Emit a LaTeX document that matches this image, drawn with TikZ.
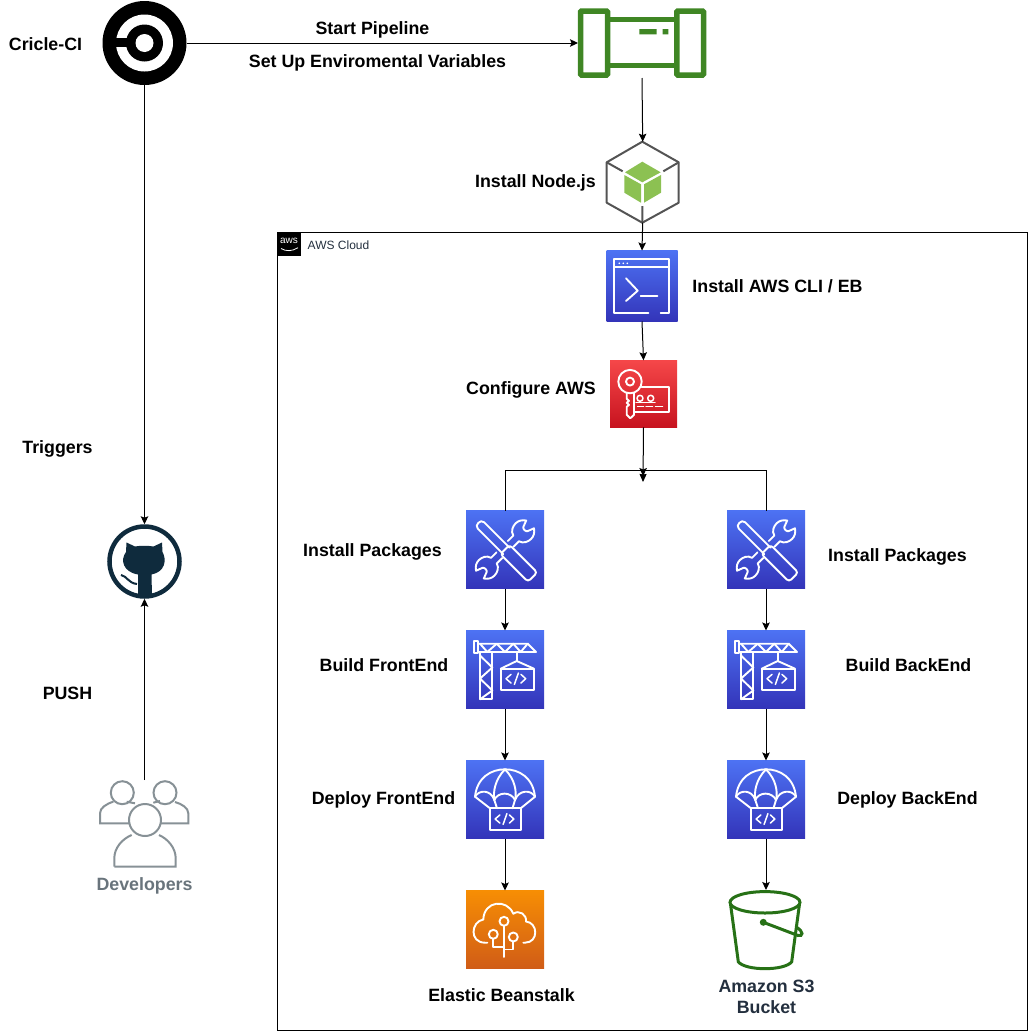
\documentclass[tikz,border=0pt]{standalone}
\usepackage{fontspec}
\setmainfont{Liberation Sans}
\usetikzlibrary{arrows.meta}
\usetikzlibrary{positioning}

\definecolor{awsblueA}{HTML}{4D72F3}
\definecolor{awsblueB}{HTML}{3334B9}
\definecolor{awsredA}{HTML}{F54749}
\definecolor{awsredB}{HTML}{C7131F}
\definecolor{awsorangeA}{HTML}{F78E04}
\definecolor{awsorangeB}{HTML}{D05C17}
\definecolor{pipegreen}{HTML}{3F8624}
\definecolor{bucketgreen}{HTML}{277116}
\definecolor{cubegreen}{HTML}{8CC152}
\definecolor{hexgray}{HTML}{545454}
\definecolor{ghnavy}{HTML}{0F2B3D}
\definecolor{devgray}{HTML}{879196}
\definecolor{inkblue}{HTML}{232F3E}

\tikzset{
  flow/.style={draw=black,line width=1pt,-{Stealth[length=8pt,width=7.5pt,inset=1.5pt]}},
  flowtwice/.style={draw=black,line width=1pt,-{Stealth[length=8pt,width=7.5pt,inset=1.5pt,sep=-2pt]Stealth[length=8pt,width=7pt,inset=0.5pt]}},
  branch/.style={draw=black,line width=1pt},
  steptext/.style={font=\bfseries\fontsize{17.8}{21.5}\selectfont,text=black,inner sep=0pt,align=center,yshift=-1pt},
  holder/.style={draw=none,inner sep=0pt,outer sep=0pt},
  tile/.style={holder,minimum width=#1,minimum height=#1},
  bluetile/.style={tile=#1,top color=awsblueA,bottom color=awsblueB},
  redtile/.style={tile=#1,top color=awsredA,bottom color=awsredB},
  orangetile/.style={tile=#1,top color=awsorangeA,bottom color=awsorangeB},
  glyph/.style={draw=white,line width=1.9pt,line join=round,line cap=round},
  thinglyph/.style={draw=white,line width=1.5pt,line join=round,line cap=round},
  codeicon/.pic={
    \draw[thinglyph] (-5.7,-4.3) -- (-10.7,0) -- (-5.7,4.3);
    \draw[thinglyph] (1.7,-5.7) -- (-2.3,5.7);
    \draw[thinglyph] (4.3,-4.3) -- (9,0) -- (4.3,4.3);
  },
  cliicon/.pic={
    \draw[glyph] (6.3,27.3) -- (-28,27.3) -- (-28,-26.7) -- (27,-26.7) -- (27,27.3) -- (18.7,27.3);
    \draw[glyph] (-28,-18.7) -- (27,-18.7);
    \fill[white] (-22.7,-22.7) circle (0.9) (-18.7,-22.7) circle (0.9) (-14.7,-22.7) circle (0.9);
    \draw[glyph] (-16,-7.7) -- (-4.3,4.7) -- (-16,15);
    \draw[glyph] (-1.3,9.7) -- (15.3,9.7);
  },
  keyicon/.pic={
    \draw[glyph] (-13.5,-12.2) circle (11.7);
    \draw[glyph] (-13.5,-12.2) circle (4);
    \draw[glyph] (-16.8,-1) -- (-16.8,5) -- (-14.5,7) -- (-16.8,9) -- (-14.5,11) -- (-16.8,13) -- (-16.8,21) -- (-13.2,24.5) -- (-9.5,21) -- (-9.5,-1);
    \draw[glyph] (-1.8,-7.2) -- (25.8,-7.2) -- (25.8,17.8) -- (-8.5,17.8);
    \draw[thinglyph] (-3.5,4.5) circle (3) (7.2,4.5) circle (3);
    \draw[thinglyph] (-7.5,8.8) -- (11.5,8.8);
    \draw[thinglyph] (-6,12.5) -- (0,12.5) (2.5,12.5) -- (9,12.5) (12,12.5) -- (19,12.5);
  },
  wrenchhalf/.pic={
    \draw[glyph] (8,-4) -- (15.7,-4) .. controls (17,-9) and (22,-11) .. (26,-11) .. controls (30,-11) and (33,-9) .. (35.5,-5.5) -- (29,-3) .. controls (27,-2) and (27,2) .. (29,3) -- (35.5,5.5) .. controls (33,9) and (30,11) .. (26,11) .. controls (22,11) and (17,9) .. (15.7,4) -- (8,4);
  },
  toolsicon/.pic={
    \pic[rotate=45] {wrenchhalf};
    \pic[rotate=225] {wrenchhalf};
    \begin{scope}[rotate=-45]
      \draw[glyph] (2,-4.5) -- (-34,-4.5) .. controls (-39,-4.5) and (-39,4.5) .. (-34,4.5) -- (2,4.5);
      \draw[glyph,rounded corners=3pt] (0,-6.5) rectangle (39,6.5);
    \end{scope}
  },
  craneicon/.pic={
    \draw[glyph] (-30.7,-28.5) rectangle (-26.7,-16.5);
    \draw[glyph] (-26.7,-25.8) -- (22.7,-25.8) -- (31,-17.5) -- (-26.7,-17.5);
    \draw[glyph] (-25,-25.8) -- (-17.7,-17.5) -- (-8.3,-25.8) -- (0,-17.5) -- (8.3,-25.8) -- (15.7,-17.5) -- (22.7,-25.8);
    \draw[glyph] (-25,-17.5) rectangle (-12.7,29.8);
    \draw[glyph] (-25,-14) -- (-12.7,-2) -- (-25,9) -- (-12.7,21) -- (-25,29.8);
    \draw[glyph] (11.7,-17.5) -- (11.7,-8.5);
    \draw[glyph] (-4.3,-0.8) -- (11.7,-8.5) -- (29,-0.8);
    \draw[glyph] (-4.3,-0.8) rectangle (29,20.2);
    \pic at (11.7,9.2) {codeicon};
  },
  deployicon/.pic={
    \draw[glyph] (-30,-2.8) .. controls (-28,-22) and (-14,-30.2) .. (0,-30.2) .. controls (14,-30.2) and (28,-22) .. (30,-2.8);
    \draw[glyph] (-30,-2.8) .. controls (-26,-10) and (-14,-10) .. (-10.7,0.5) .. controls (-7,-8) and (6,-8) .. (10,0.5) .. controls (14,-10) and (26,-10) .. (30,-2.8);
    \draw[glyph] (0,-30.2) .. controls (-10,-20) and (-12,-8) .. (-10.7,0.5);
    \draw[glyph] (0,-30.2) .. controls (10,-20) and (12,-8) .. (10,0.5);
    \draw[glyph] (-30,-2.8) -- (-15,8.8) (30,-2.8) -- (15.7,8.8) (-10.7,0.5) -- (-8,8.8) (10,0.5) -- (7.5,8.8);
    \draw[glyph] (-15,8.8) rectangle (15.7,30.5);
    \pic[scale=0.95] at (0.3,19.5) {codeicon};
  },
  beanstalkicon/.pic={
    \draw[glyph] (-17.7,13.2) -- (-20,13.2) .. controls (-36,13) and (-34,-8) .. (-21.7,-10) .. controls (-21,-29) and (2,-31) .. (8.3,-15.8) .. controls (14,-20) and (22,-15) .. (21,-8) .. controls (33,-7) and (34,13) .. (20,13.2) -- (18.3,13.2);
    \draw[glyph] (-1,-8.2) circle (4.5) (-11.7,4.8) circle (4.5) (8.3,7.5) circle (4.5);
    \draw[glyph] (-1,27.5) -- (-1,-3.7);
    \draw[glyph] (-11.7,9.3) -- (-11.7,17.5) -- (-1,17.5);
    \draw[glyph] (8.3,12) -- (8.3,20) -- (-1,20);
  },
}

\begin{document}
\begin{tikzpicture}[x=1pt,y=-1pt]
\useasboundingbox (0,0) rectangle (1028,1031);

% cloud frame
\node[holder,draw=black,line width=1pt,minimum width=750pt,minimum height=798pt] (cloud) at (652,631) {};
\node[holder,fill=black,minimum width=24pt,minimum height=24pt] (awslogo) at (289,244) {};
\node[holder,text=white,font=\fontsize{10}{10}\selectfont] (awsword) at (289,241) {aws};
\draw[white,line width=0.8pt] (281,248.5) .. controls (286,251.5) and (292,251.5) .. (298,247.7);
\node[holder,text=inkblue,font=\fontsize{12}{14}\selectfont] (cloudtext) at (338.5,245) {AWS Cloud};

% left column
\node[holder,circle,fill=black,minimum size=84pt] (circleci) at (144.5,43) {};
\fill[white] (circleci.center) circle (28.5);
\fill[black] (circleci.center) circle (18.5);
\fill[white] (circleci.center) circle (9);
\fill[black] (115,37.5) rectangle (130,47);
\node[holder,circle,draw=ghnavy,line width=4.5pt,outer sep=2.25pt,minimum size=70pt] (github) at (144.5,561.5) {};
\fill[ghnavy] (126.5,542.5) -- (135,546.5) .. controls (140,545.5) and (148,545.5) .. (153.5,546.5) -- (162,542.5) -- (162.5,552) .. controls (167,560) and (165,572) .. (151.5,574.5) -- (152,596) -- (138,596) -- (138,574.5) .. controls (123,572) and (120,560) .. (126,552) -- cycle;
\draw[ghnavy,line width=2pt] (121,575) .. controls (127,576) and (128,583) .. (137,584);
\node[holder,minimum width=90pt,minimum height=88pt] (devs) at (144.5,824) {};
\draw[devgray,line width=2pt] (145,820) circle (16);
\draw[devgray,line width=2pt] (114.3,866.7) -- (175.7,866.7) -- (175.7,858.3) .. controls (175.7,848) and (168,839) .. (159,835);
\draw[devgray,line width=2pt] (114.3,866.7) -- (114.3,858.3) .. controls (114.3,848) and (122,839) .. (131.7,835);
\draw[devgray,line width=2pt] (122.3,792.7) circle (11.5);
\draw[devgray,line width=2pt] (130,823.3) -- (100,823.3) -- (100,813.3) .. controls (100,808) and (106,804) .. (113.3,801.7);
\draw[devgray,line width=2pt] (126.7,801.7) -- (135,803.3);
\draw[devgray,line width=2pt] (165,792.7) circle (11.5);
\draw[devgray,line width=2pt] (160,823.3) -- (188.3,823.3) -- (188.3,813.3) .. controls (188.3,808) and (182,804) .. (175,802);
\draw[devgray,line width=2pt] (153.3,802.7) -- (160,801);

% pipeline and node
\node[holder,minimum width=128pt,minimum height=70pt] (pipeline) at (642,43) {};
\draw[pipegreen,line width=5.5pt,rounded corners=1pt] (580.5,11) rectangle (607.5,75);
\draw[pipegreen,line width=5.5pt,rounded corners=1pt] (676.8,11) rectangle (703.5,75);
\draw[pipegreen,line width=5pt] (610,19.8) -- (674.3,19.8) (610,65.8) -- (674.3,65.8);
\fill[pipegreen] (639.3,29) rectangle (656.7,34.3) (662.7,29) rectangle (668.3,34.3);
\node[holder,minimum width=73pt,minimum height=81pt] (nodejs) at (642.7,182.2) {};
\draw[hexgray,line width=2pt,line join=round] (642.3,141.7) -- (678.7,162.3) -- (678.7,202.7) -- (642.3,222.7) -- (606.7,202.7) -- (606.7,162.3) -- cycle;
\draw[hexgray,line width=2pt] (606.7,162.3) -- (622.7,171.3) (678.7,162.3) -- (663.3,171.3) (642.3,222.7) -- (642.3,206);
\fill[cubegreen] (642.3,161.7) -- (660.7,172.3) -- (642.3,182.3) -- (625,172.3) -- cycle;
\fill[cubegreen] (624.3,175) -- (641,184.3) -- (641,202.7) -- (624.3,192.7) -- cycle;
\fill[cubegreen] (644,184.3) -- (661,175) -- (661,192.7) -- (644,202.7) -- cycle;

% aws tiles
\node[bluetile=71pt] (awscli) at (642,286) {};
\pic at (awscli) {cliicon};
\node[redtile=67pt] (configure) at (643.5,393.8) {};
\pic at (configure) {keyicon};
\coordinate (merge) at (643,470.5);
\coordinate (mergetip) at (643,482);

\node[bluetile=78pt] (packagesfront) at (505,549.5) {};
\pic at (packagesfront) {toolsicon};
\node[bluetile=78pt] (buildfront) at (505,669.5) {};
\pic at (buildfront) {craneicon};
\node[bluetile=78pt] (deployfront) at (505,799.5) {};
\pic at (deployfront) {deployicon};
\node[orangetile=78pt] (beanstalk) at (505,929.5) {};
\pic at (beanstalk) {beanstalkicon};

\node[bluetile=78pt] (packagesback) at (766,549.5) {};
\pic at (packagesback) {toolsicon};
\node[bluetile=78pt] (buildback) at (766,669.5) {};
\pic at (buildback) {craneicon};
\node[bluetile=78pt] (deployback) at (766,799.5) {};
\pic at (deployback) {deployicon};
\node[holder,minimum width=72pt,minimum height=78pt] (bucket) at (766,929) {};
\draw[bucketgreen,line width=3pt] (765,902.3) ellipse (35 and 10.7);
\draw[bucketgreen,line width=3pt] (730.5,904) -- (738.3,961.7) .. controls (745,971) and (785,971) .. (791.7,961.7) -- (799.5,904);
\fill[bucketgreen] (763.3,922.3) circle (3.5);
\draw[bucketgreen,line width=3pt] (763.3,922.3) -- (798,935.5) .. controls (803,936.5) and (804,932) .. (796.7,927.3);

% connectors
\draw[flow] (circleci) -- (pipeline.west);
\draw[flow] (circleci.south) -- (github.north);
\draw[flow] (devs.north) -- (github.south);
\draw[flow] (pipeline.south) -- (nodejs.north);
\draw[flow] (nodejs.south) -- (awscli.north);
\draw[flow] (awscli.south) -- (configure.north);
\draw[flowtwice] (configure.south) -- (mergetip);
\draw[branch] (packagesfront.north) |- (merge);
\draw[branch] (packagesback.north) |- (merge);
\draw[flow] (packagesfront) -- (buildfront);
\draw[flow] (buildfront) -- (deployfront);
\draw[flow] (deployfront) -- (beanstalk);
\draw[flow] (packagesback) -- (buildback);
\draw[flow] (buildback) -- (deployback);
\draw[flow] (deployback) -- (bucket.north);

% labels
\node[steptext] (circletext) at (45.5,43) {Cricle-CI};
\node[steptext] (starttext) at (372.5,29) {Start Pipeline};
\node[steptext] (envtext) at (377.5,62) {Set Up Enviromental Variables};
\node[steptext] (nodetext) at (535.5,182) {Install Node.js};
\node[steptext] (clitext) at (777.5,285) {Install AWS CLI / EB};
\node[steptext] (configtext) at (531,389) {Configure AWS};
\node[steptext] (trigtext) at (57.5,448) {Triggers};
\node[steptext] (pushtext) at (67.5,692) {PUSH};
\node[steptext] (pkgfronttext) at (372.5,551) {Install Packages};
\node[steptext] (pkgbacktext) at (897.5,556) {Install Packages};
\node[steptext] (buildfronttext) at (384,664) {Build FrontEnd};
\node[steptext] (buildbacktext) at (908.5,664) {Build BackEnd};
\node[steptext] (deployfronttext) at (383.5,799) {Deploy FrontEnd};
\node[steptext] (deploybacktext) at (907.5,799) {Deploy BackEnd};
\node[steptext] (beantext) at (501.5,994) {Elastic Beanstalk};
\node[steptext,text=inkblue] (buckettext) at (766.5,996) {Amazon S3\\Bucket};
\node[steptext,text=devgray!70!inkblue] (devtext) at (144.5,885) {Developers};
\end{tikzpicture}
\end{document}
